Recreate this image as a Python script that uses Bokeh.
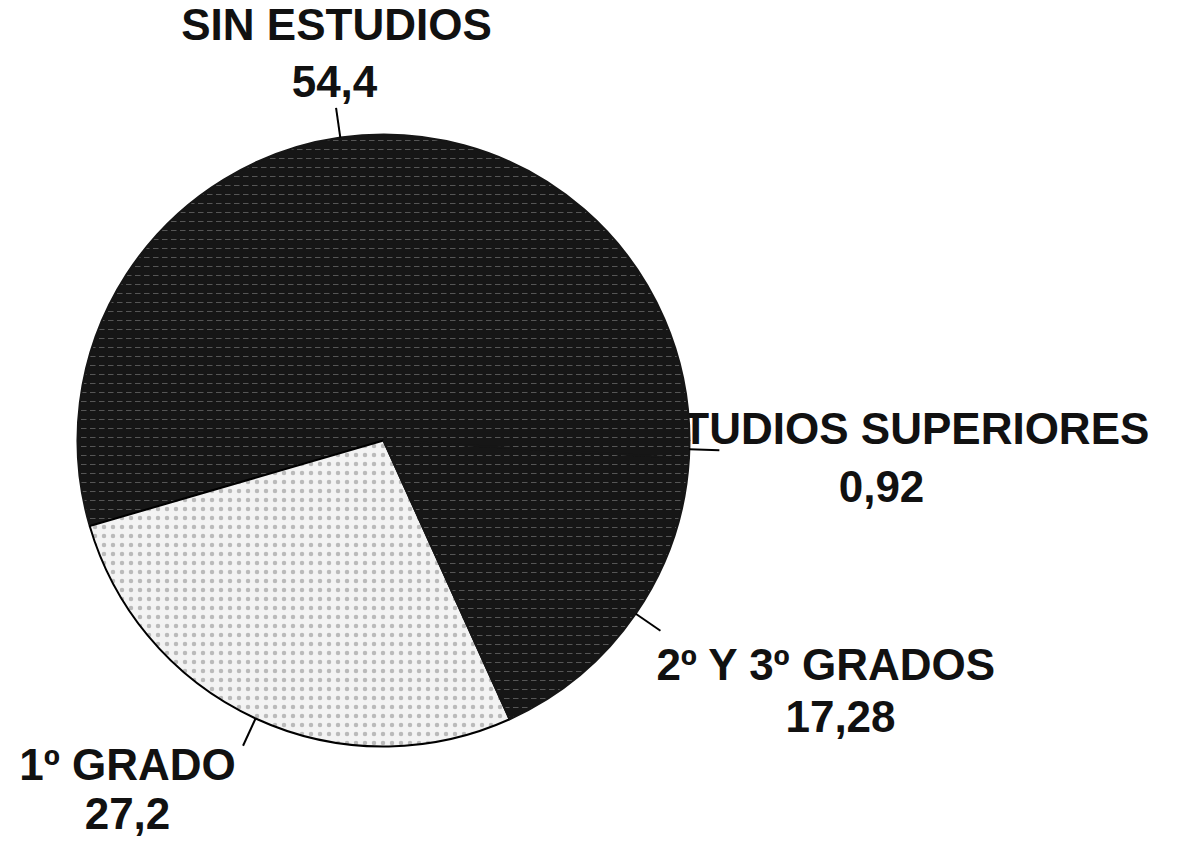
import math
from bokeh.plotting import figure
from bokeh.models import Range1d, ColumnDataSource
from bokeh.core.properties import value
from bokeh.embed import file_html
from bokeh.resources import INLINE

# ---- data ----
categories = ["SIN ESTUDIOS", "1º GRADO", "2º Y 3º GRADOS", "ESTUDIOS SUPERIORES"]
values = [54.4, 27.2, 17.28, 0.92]
value_labels = ["54,4", "27,2", "17,28", "0,92"]

# ---- layout / style ----
W, H = 1163, 840
PAGE_H = 856
CX, CY_PAGE, R = 383, 440, 306
LEADER = 30
FONT = "Liberation Sans"
FSIZE = "44px"
TEXT_SHIFT = 16  # empirical baseline correction
fills = ["#161616", "#f3f3f3", "#161616", "#161616"]
edges = ["#161616", "#000000", "#161616", "#161616"]
hatches = ["horizontal_dash", "dot", "horizontal_dash", "horizontal_dash"]
hatch_cols = ["#8a8a8a", "#8a8a8a", "#8a8a8a", "#8a8a8a"]
# label anchors in page pixels: (center x, baseline y)
name_pos = [(336, 40), (127, 780), (826, 680), (886, 444)]
val_pos = [(334, 97), (127, 829), (840, 732), (881, 502)]


def py(y_page):
    return PAGE_H - y_page


CY = py(CY_PAGE)

total = sum(values)
starts, ends, mids = [], [], []
acc = 0.0
for v in values:
    a0 = acc / total * 2 * math.pi
    acc += v
    a1 = acc / total * 2 * math.pi
    starts.append(a0)
    ends.append(a1)
    mids.append((a0 + a1) / 2)

p = figure(width=W, height=H, output_backend="svg", toolbar_location=None,
           title=None,
           x_range=Range1d(0, W), y_range=Range1d(PAGE_H - H, PAGE_H),
           x_axis_type=None, y_axis_type=None, min_border=0,
           outline_line_color=None, background_fill_color="white",
           border_fill_color="white")
p.grid.visible = False

# labels first (pie is drawn over them, as in the original)
lab_src = ColumnDataSource(dict(
    x=[q[0] for q in name_pos] + [q[0] for q in val_pos],
    y=[py(q[1] - TEXT_SHIFT) for q in name_pos] + [py(q[1] - TEXT_SHIFT) for q in val_pos],
    t=categories + value_labels,
))
p.text(x="x", y="y", text="t", source=lab_src, text_align="center",
       text_baseline="alphabetic", text_font=value(FONT),
       text_font_size=FSIZE, text_font_style="bold", text_color="#111111")

pie_src = ColumnDataSource(dict(
    cat=categories, val=values, start=starts, end=ends,
    fill=fills, edge=edges, hatch=hatches, hcol=hatch_cols,
))
p.wedge(x=CX, y=CY, radius=R, start_angle="start", end_angle="end",
        source=pie_src, fill_color="fill", line_color="edge",
        line_width=2, hatch_pattern="hatch", hatch_color="hcol",
        hatch_alpha=0.55, hatch_scale=9, hatch_weight=1)

# leader lines
x0 = [CX + R * math.cos(m) for m in mids]
y0 = [CY + R * math.sin(m) for m in mids]
x1 = [CX + (R + LEADER) * math.cos(m) for m in mids]
y1 = [CY + (R + LEADER) * math.sin(m) for m in mids]
p.segment(x0=x0, y0=y0, x1=x1, y1=y1, line_color="#000000", line_width=2)

open("out.html", "w").write(file_html(p, INLINE))
